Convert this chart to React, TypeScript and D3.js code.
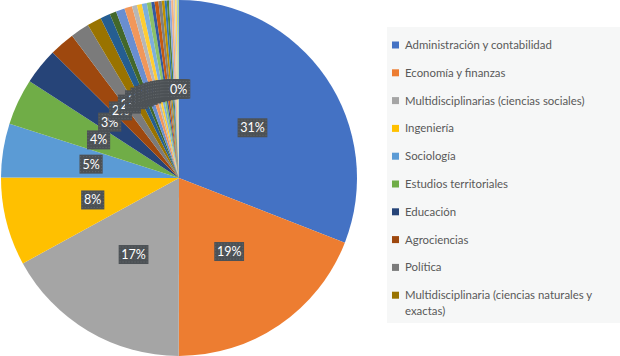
import React from "react";
import * as d3 from "d3";

// Legend categories (Excel shows only the first 10)
const categories: string[] = [
  "Administración y contabilidad",
  "Economía y finanzas",
  "Multidisciplinarias (ciencias sociales)",
  "Ingeniería",
  "Sociología",
  "Estudios territoriales",
  "Educación",
  "Agrociencias",
  "Política",
  "Multidisciplinaria (ciencias naturales y exactas)",
];

// Percent share of every slice (first 10 named, the rest unnamed small areas)
const values: number[] = [
  30.9, 19.1, 17.0, 8.0, 4.9, 4.2, 3.3, 2.3, 1.7, 1.3,
  0.9, 0.6, 0.8, 0.7, 0.45, 0.45, 0.45, 0.4, 0.3, 0.35,
  0.3, 0.25, 0.2, 0.2, 0.2, 0.2, 0.15, 0.15, 0.1, 0.1,
];

const palette: string[] = [
  "#4472C4", "#ED7D31", "#A5A5A5", "#FFC000", "#5B9BD5", "#70AD47",
  "#264478", "#9E480E", "#7B7B7B", "#997300", "#255E91", "#43682B",
  "#698ED0", "#F1975A", "#B7B7B7", "#FFCD33", "#7CAFDD", "#8CC168",
  "#335AA1", "#C55A11", "#7F7F7F", "#BF9000", "#2E75B6", "#548235",
  "#8FAADC", "#F4B183", "#C9C9C9", "#FFD966", "#9DC3E6", "#A9D18E",
];

const FONT = "Lato, 'Open Sans', sans-serif";

export default function App() {
  const cx = 179;
  const cy = 178;
  const r = 178;
  const pie = d3.pie<number>().sort(null).value((d) => d);
  const arcs = pie(values);
  const arc = d3.arc<d3.PieArcDatum<number>>().innerRadius(0).outerRadius(r);
  const labelArc = d3.arc<d3.PieArcDatum<number>>().innerRadius(r / 2).outerRadius(r / 2);
  const total = d3.sum(values);

  const legendX = 387;
  const legendY = 27;
  const rowH = 27.8;

  return (
    <svg
      width={620}
      height={356}
      style={{ position: "absolute", left: 0, top: 0, background: "#fff" }}
    >
      <defs>
        <pattern id="dots" width="3" height="3" patternUnits="userSpaceOnUse">
          <rect width="3" height="3" fill="#4c5155" />
          <rect x="1" y="1" width="1" height="1" fill="#62676b" />
        </pattern>
      </defs>
      <g transform={`translate(${cx},${cy})`}>
        {arcs.map((a, i) => (
          <path key={i} d={arc(a) || ""} fill={palette[i % palette.length]} />
        ))}
        {arcs.map((a, i) => {
          const [lx, ly] = labelArc.centroid(a);
          const txt = `${Math.round((a.value / total) * 100)}%`;
          const w = txt.length * 6.6 + 10;
          const h = 19;
          return (
            <g key={"l" + i} transform={`translate(${lx},${ly})`}>
              <rect x={-w / 2} y={-h / 2} width={w} height={h} fill="url(#dots)" />
              <text
                textAnchor="middle"
                dy="0.36em"
                fill="#ffffff"
                fontSize={12.5}
                fontFamily={FONT}
              >
                {txt}
              </text>
            </g>
          );
        })}
      </g>
      <rect x={legendX} y={legendY} width={233} height={296} fill="#f6f7f7" />
      {categories.map((c, i) => {
        const y = 45 + i * rowH;
        const lines =
          i === 9 ? ["Multidisciplinaria (ciencias naturales y", "exactas)"] : [c];
        return (
          <g key={"g" + i}>
            <rect x={392} y={y - 3.5} width={7} height={7} fill={palette[i]} />
            {lines.map((ln, j) => (
              <text
                key={j}
                x={405}
                y={y + j * 16}
                dy="0.35em"
                fontSize={11.4}
                fill="#595959"
                fontFamily={FONT}
              >
                {ln}
              </text>
            ))}
          </g>
        );
      })}
    </svg>
  );
}
